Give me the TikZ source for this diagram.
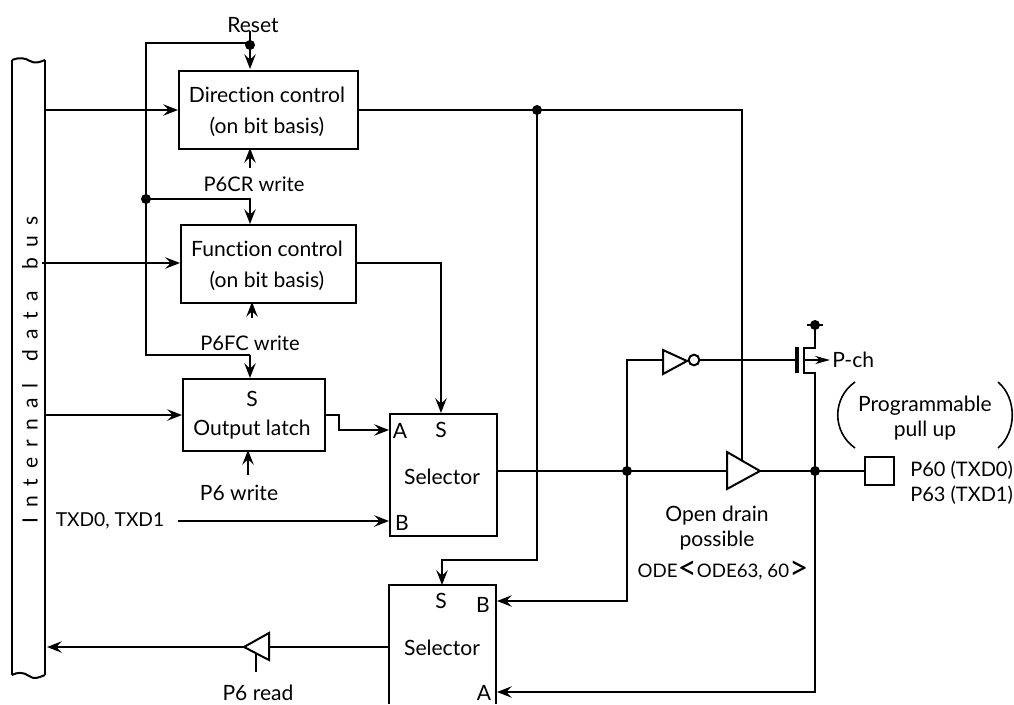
\documentclass[tikz,border=0pt]{standalone}
\usepackage{fontspec}
\setmainfont{Lato}[Ligatures=NoCommon]
\usetikzlibrary{arrows.meta}
\tikzset{
  wire/.style={line width=1.5pt,line cap=butt,line join=miter},
  arr/.style={wire,-{Stealth[length=11pt,width=8.5pt,inset=4pt]}},
  block/.style={draw,line width=1.5pt,inner sep=0pt},
  lab/.style={inner sep=0pt,align=center,font=\fontsize{15.8}{18.5}\selectfont},
  twoline/.style={lab,font=\fontsize{15.8}{23}\selectfont},
  capslab/.style={lab,font=\fontsize{14.4}{18.5}\selectfont},
  wlab/.style={lab,font=\fontsize{15.1}{18.5}\selectfont},
  dot/.style={circle,fill=black,inner sep=0pt,minimum size=7.5pt},
}
\begin{document}
\begin{tikzpicture}[x=0.75pt,y=-0.75pt]
\useasboundingbox (0,0) rectangle (1014,704);
% bus
\coordinate (busTL) at (12,60); \coordinate (busTR) at (45,60);
\coordinate (busBL) at (12,675); \coordinate (busBR) at (45,675);
\draw[wire] (busTL) .. controls (20,57) and (25,58) .. (30,61) .. controls (35,64) and (40,62) .. (busTR);
\draw[wire] (busBL) .. controls (17,672) and (24,672) .. (29,676) .. controls (34,680) and (40,677) .. (busBR);
\draw[wire] (busTL) -- (busBL);
\draw[wire] (busTR) -- (busBR);
\node[lab,rotate=90,font=\fontsize{15.8}{16}\addfontfeature{LetterSpace=47}\selectfont] (bustext) at (30,370) {Internal\hspace{5pt} data\hspace{5pt} bus};
% blocks
\node[block,anchor=north west,minimum width=134.25pt,minimum height=58.5pt] (dirc) at (178,69.5) {};
\node[twoline] (dirt) at (267,111.5) {Direction control\\(on bit basis)};
\node[block,anchor=north west,minimum width=131.25pt,minimum height=58.5pt] (func) at (180,224) {};
\node[twoline] (funt) at (267,265.5) {Function control\\(on bit basis)};
\node[block,anchor=north west,minimum width=106.5pt,minimum height=54pt] (latch) at (182,378) {};
\node[lab] (lats) at (252,399) {S};
\node[lab] (latt) at (252,430) {Output latch};
\node[block,anchor=north west,minimum width=80.25pt,minimum height=91.5pt] (selA) at (389,413) {};
\node[lab] (selAt) at (442,477) {Selector};
\node[lab] (selAa) at (400,431) {A};
\node[lab] (selAs) at (441,430) {S};
\node[lab] (selAb) at (402,523) {B};
\coordinate (selBtl) at (389,585); \coordinate (selBtr) at (496,585);
\coordinate (selBbl) at (389,704); \coordinate (selBbr) at (496,704);
\draw[wire] (selBbl) -- (selBtl) -- (selBtr) -- (selBbr);
\node[lab] (selBt) at (442,648) {Selector};
\node[lab] (selBs) at (441,601) {S};
\node[lab] (selBb) at (483,605) {B};
\node[lab] (selBa) at (484,693) {A};
% labels
\node[lab] (reset) at (253,25) {Reset};
\node[wlab] (crw) at (254,184) {P6CR write};
\node[wlab] (fcw) at (250,343) {P6FC write};
\node[lab] (p6w) at (239,493) {P6 write};
\node[capslab] (txd) at (110,521) {TXD0, TXD1};
\node[lab] (p6r) at (258,693) {P6 read};
\node[lab] (od) at (717,528) {Open drain\\possible};
\node[capslab,font=\fontsize{14}{18.5}\selectfont] (ode) at (723,570) {ODE{\fontsize{25}{18}\selectfont\raisebox{-1.5pt}{<}}ODE63, 60{\fontsize{25}{18}\selectfont\raisebox{-1.5pt}{>}}};
\node[lab] (prog) at (925,418) {Programmable\\pull up};
\node[capslab,font=\fontsize{15}{18.5}\selectfont,align=left,anchor=west] (port) at (910,483) {P60 (TXD0)\\P63 (TXD1)};
\node[lab,anchor=west] (pch) at (832,360) {P-ch};
\draw[wire,line width=1.2pt] (855,382) .. controls (832,398) and (832,432) .. (855,448);
\draw[wire,line width=1.2pt] (998,382) .. controls (1017,398) and (1017,432) .. (998,448);
% reset tree
\coordinate (rTop) at (250,31);
\coordinate (rDot) at (250,45);
\coordinate (fbDot) at (146,199);
\coordinate (fbL) at (146,43);
\coordinate (fbB) at (146,355);
\coordinate (fbF) at (250,199);
\coordinate (fbOut) at (250,355);
\draw[wire] (rDot) |- (fbL) -- (fbB) -- (fbOut);
\draw[arr] (rTop) -- (250,69);
\draw[arr] (fbDot) -- (fbF) -- (250,224);
\draw[arr] (fbOut) -- (250,378);
\node[dot] (d1) at (rDot) {};
\node[dot] (d2) at (fbDot) {};
% write arrows
\draw[arr] (250,168) -- (250,148);
\draw[arr] (252,318) -- (252,302);
\draw[arr] (248,475) -- (248,450);
% bus arrows
\draw[arr] (45,110) -- (178,110);
\draw[arr] (42,263) -- (180,263);
\draw[arr] (45,415) -- (182,415);
% direction out
\coordinate (dirJ) at (537,110);
\coordinate (dirE) at (742,110);
\coordinate (buf1C) at (742,460);
\draw[wire] (357,110) -- (dirE) -- (buf1C);
\node[dot] (d3) at (dirJ) {};
\draw[arr] (dirJ) -- (537,560) -- (442,560) -- (442,585);
% function out
\draw[arr] (355,263) -- (441,263) -- (441,413);
% latch
\draw[arr] (324,415) -- (339,415) -- (339,430) -- (389,430);
\draw[arr] (178,521) -- (389,521);
% main out
\coordinate (j1) at (627,471);
\coordinate (j2) at (815,471);
\coordinate (b1L) at (727,471);
\coordinate (b1R) at (760,471);
\node[draw,line width=1.5pt,anchor=west,minimum width=21.75pt,minimum height=21pt,inner sep=0pt] (pad) at (864,471) {};
\draw[wire] (496,471) -- (b1L);
\draw[wire] (b1R) -- (pad.west);
\draw[wire] (727,452) -- (b1R) -- (727,489) -- cycle;
\node[dot] (d4) at (j1) {};
\node[dot] (d5) at (j2) {};
% inverter
\coordinate (invL) at (663,360);
\node[draw,circle,line width=1.5pt,inner sep=0pt,minimum size=8pt] (bub) at (694,360) {};
\draw[wire] (j1) -- (627,360) -- (invL);
\draw[wire] (663,350) -- (687,361) -- (663,374) -- cycle;
\draw[wire] (bub.east) -- (795,360);
\draw[arr] (j1) -- (627,601) -- (497,601);
% mosfet
\draw[line width=3pt] (797,347) -- (797,373);
\draw[wire] (815,325) -- (815,348) -- (804,348) -- (804,373) -- (815,373) -- (j2);
\draw[wire] (807,325) -- (823,325);
\node[dot] (d6) at (815,325) {};
\draw[arr,-{Stealth[length=11pt,width=6pt,inset=3pt]}] (804,360) -- (830,360);
\draw[arr] (j2) -- (815,692) -- (497,692);
% bottom buffer
\coordinate (b2R) at (269,647); \coordinate (b2T) at (244,647);
\draw[wire] (389,647) -- (b2R);
\draw[wire] (269,633) -- (b2T) -- (269,660) -- cycle;
\draw[arr] (b2T) -- (47,647);
\draw[wire] (256,654) -- (256,672);
\end{tikzpicture}
\end{document}
